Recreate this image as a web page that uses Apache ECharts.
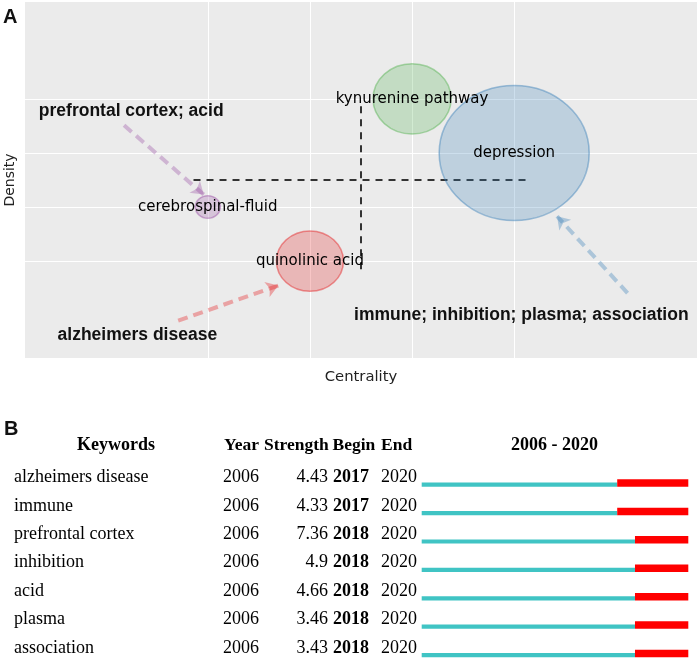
<!DOCTYPE html>
<html><head><meta charset="utf-8">
<script src="https://cdn.jsdelivr.net/npm/echarts@6/dist/echarts.min.js"></script>
<style>html,body{margin:0;padding:0;background:#fff}#c{width:699px;height:660px}</style>
</head><body><div id="c"></div>
<script>
// ---------- Panel A data ----------
const themes = ['cerebrospinal-fluid', 'quinolinic acid', 'kynurenine pathway', 'depression'];
const centrality = [1, 2, 3, 4];
const density = [2, 1, 4, 3];
const bubbleSize = [25, 67, 78, 150];
const meanCentrality = 2.5;
const meanDensity = 2.5;
const meanLineXRange = [0.86, 4.14];
const meanLineYRange = [0.85, 3.97];
const annotations = ['prefrontal cortex; acid', 'alzheimers disease', 'immune; inhibition; plasma; association'];
const annotationX = [0.25, 0.31, 4.07];
const annotationY = [3.77, -0.36, 0.0];
const arrowFrom = [[0.18, 3.51], [0.71, -0.10], [5.11, 0.41]];
const arrowTo = [[0.96, 2.23], [1.69, 0.55], [4.42, 1.83]];

// ---------- Panel B data ----------
const keywords = ['alzheimers disease', 'immune', 'prefrontal cortex', 'inhibition', 'acid', 'plasma', 'association'];
const firstYear = [2006, 2006, 2006, 2006, 2006, 2006, 2006];
const strength = ['4.43', '4.33', '7.36', '4.9', '4.66', '3.46', '3.43'];
const beginYear = [2017, 2017, 2018, 2018, 2018, 2018, 2018];
const endYear = [2020, 2020, 2020, 2020, 2020, 2020, 2020];
const rangeStart = 2006;
const rangeEnd = 2020;

// ---------- styles ----------
const themeColors = ['#984ea3', '#e41a1c', '#4daf4a', '#377eb8'];
const arrowColors = ['#984ea3', '#e41a1c', '#377eb8'];
function rgba(hex, a) {
  const n = parseInt(hex.slice(1), 16);
  return 'rgba(' + ((n >> 16) & 255) + ',' + ((n >> 8) & 255) + ',' + (n & 255) + ',' + a + ')';
}
const sansFont = 'DejaVu Sans';
const boldFont = 'Liberation Sans';
const serif = '"Liberation Serif", "Times New Roman", serif';

const chart = echarts.init(document.getElementById('c'), null, { renderer: 'canvas' });

const hiddenAxis = {
  axisLine: { show: false }, axisTick: { show: false },
  axisLabel: { show: false }, splitLine: { show: false }
};

chart.setOption({
  animation: false,
  backgroundColor: '#ffffff',
  grid: [
    { left: 25, top: 2, width: 672, height: 356, show: true, backgroundColor: '#ebebeb', borderWidth: 0, outerBoundsMode: 'none', containLabel: false },
    { left: 421.7, top: 463.3, width: 266.6, height: 198.8, show: false, outerBoundsMode: 'none', containLabel: false }
  ],
  xAxis: [
    Object.assign({ type: 'value', gridIndex: 0, min: -0.79, max: 5.79,
      name: 'Centrality', nameLocation: 'middle', nameGap: 12,
      nameTextStyle: { fontFamily: sansFont, fontSize: 14.8, color: '#222' } }, hiddenAxis),
    Object.assign({ type: 'value', gridIndex: 1, min: rangeStart, max: rangeEnd + 1 }, hiddenAxis)
  ],
  yAxis: [
    Object.assign({ type: 'value', gridIndex: 0, min: -0.79, max: 5.79,
      name: 'Density', nameLocation: 'middle', nameGap: 8,
      nameTextStyle: { fontFamily: sansFont, fontSize: 14, color: '#222' } }, hiddenAxis),
    Object.assign({ type: 'category', gridIndex: 1, data: keywords, inverse: true }, hiddenAxis)
  ],
  graphic: [
    { type: 'text', x: 3, y: 17, style: { text: 'A', font: 'bold 20px "' + boldFont + '"', fill: '#111', align: 'left', verticalAlign: 'middle' } },
    { type: 'text', x: 4, y: 429, style: { text: 'B', font: 'bold 20px "' + boldFont + '"', fill: '#111', align: 'left', verticalAlign: 'middle' } },
    { type: 'text', x: 116, y: 445, style: { text: 'Keywords', font: 'bold 18px ' + serif, fill: '#000', align: 'center', verticalAlign: 'middle' } },
    { type: 'text', x: 224, y: 445, style: { text: 'Year', font: 'bold 17.5px ' + serif, fill: '#000', align: 'left', verticalAlign: 'middle' } },
    { type: 'text', x: 264, y: 445, style: { text: 'Strength', font: 'bold 17.5px ' + serif, fill: '#000', align: 'left', verticalAlign: 'middle' } },
    { type: 'text', x: 332.5, y: 445, style: { text: 'Begin', font: 'bold 17.5px ' + serif, fill: '#000', align: 'left', verticalAlign: 'middle' } },
    { type: 'text', x: 381, y: 445, style: { text: 'End', font: 'bold 17.5px ' + serif, fill: '#000', align: 'left', verticalAlign: 'middle' } },
    { type: 'text', x: 554.5, y: 445, style: { text: rangeStart + ' - ' + rangeEnd, font: 'bold 18px ' + serif, fill: '#000', align: 'center', verticalAlign: 'middle' } }
  ],
  series: [
    // white gridlines at the theme positions
    {
      type: 'scatter', xAxisIndex: 0, yAxisIndex: 0, z: 1, silent: true,
      symbolSize: 0.1, itemStyle: { color: 'transparent' },
      data: centrality.map((c, i) => [c, density[i]]),
      markLine: {
        z: 0, zlevel: 0,
        silent: true, symbol: 'none', animation: false, label: { show: false },
        lineStyle: { color: '#ffffff', width: 1, type: 'solid' },
        data: centrality.map(v => ({ xAxis: v })).concat(density.map(v => ({ yAxis: v })))
      }
    },
    // mean lines
    {
      type: 'line', xAxisIndex: 0, yAxisIndex: 0, z: 2, silent: true, symbol: 'none',
      lineStyle: { color: '#333333', width: 2, type: [7, 6] },
      data: [[meanLineXRange[0], meanDensity], [meanLineXRange[1], meanDensity]]
    },
    {
      type: 'line', xAxisIndex: 0, yAxisIndex: 0, z: 2, silent: true, symbol: 'none',
      lineStyle: { color: '#333333', width: 2, type: [7, 6] },
      data: [[meanCentrality, meanLineYRange[0]], [meanCentrality, meanLineYRange[1]]]
    },
    // bubbles
    {
      type: 'scatter', xAxisIndex: 0, yAxisIndex: 0, z: 3,
      symbolSize: v => [v[2], v[2] * 0.9],
      data: themes.map((t, i) => ({
        name: t, value: [centrality[i], density[i], bubbleSize[i]],
        itemStyle: { color: rgba(themeColors[i], 0.25), borderColor: rgba(themeColors[i], 0.45), borderWidth: 1.5, opacity: 1 }
      })),
      label: { show: true, position: 'inside', formatter: '{b}', color: '#000', textBorderWidth: 0, textBorderColor: 'transparent', fontSize: 15, fontFamily: sansFont }
    },
    // annotations with arrows
    {
      type: 'scatter', xAxisIndex: 0, yAxisIndex: 0, z: 5, silent: true,
      symbolSize: 0.1, itemStyle: { color: 'transparent' },
      data: annotations.map((t, i) => ({ name: t, value: [annotationX[i], annotationY[i]] })),
      label: { show: true, position: 'inside', formatter: '{b}', color: '#111', opacity: 1, textBorderWidth: 0, textBorderColor: 'transparent', fontSize: 17.5, fontWeight: 'bold', fontFamily: boldFont },
      markLine: {
        silent: true, animation: false, symbol: ['none', 'arrow'], symbolSize: [12, 12],
        label: { show: false },
        lineStyle: { width: 4, type: [10, 6] },
        data: arrowFrom.map((f, i) => [
          { coord: f, lineStyle: { color: rgba(arrowColors[i], 0.35), width: 4, type: [10, 6] } },
          { coord: arrowTo[i] }
        ])
      }
    },
    // burst table
    {
      type: 'custom', xAxisIndex: 1, yAxisIndex: 1, clip: false, silent: true,
      encode: { x: 1, y: 0 },
      data: keywords.map((k, i) => [i, beginYear[i], endYear[i]]),
      renderItem: function (params, api) {
        const i = api.value(0);
        const p0 = api.coord([rangeStart, i]);
        const pb = api.coord([api.value(1), i]);
        const pe = api.coord([api.value(2) + 1, i]);
        const yc = p0[1];
        const bottom = yc + 9.3;
        const txt = (s, x, align, bold) => ({
          type: 'text', x: x, y: yc,
          style: { text: s, font: (bold ? 'bold ' : '') + '18px ' + serif, fill: '#000', align: align, verticalAlign: 'middle' }
        });
        return {
          type: 'group', children: [
            { type: 'rect', shape: { x: p0[0], y: bottom - 4.2, width: pb[0] - p0[0], height: 4.2 }, style: { fill: '#40c4c4' } },
            { type: 'rect', shape: { x: pb[0], y: bottom - 7.5, width: pe[0] - pb[0], height: 7.5 }, style: { fill: '#ff0000' } },
            txt(keywords[i], 14, 'left', false),
            txt(String(firstYear[i]), 223, 'left', false),
            txt(strength[i], 328, 'right', false),
            txt(String(beginYear[i]), 333, 'left', true),
            txt(String(endYear[i]), 381, 'left', false)
          ]
        };
      }
    }
  ]
});
</script>
</body></html>
